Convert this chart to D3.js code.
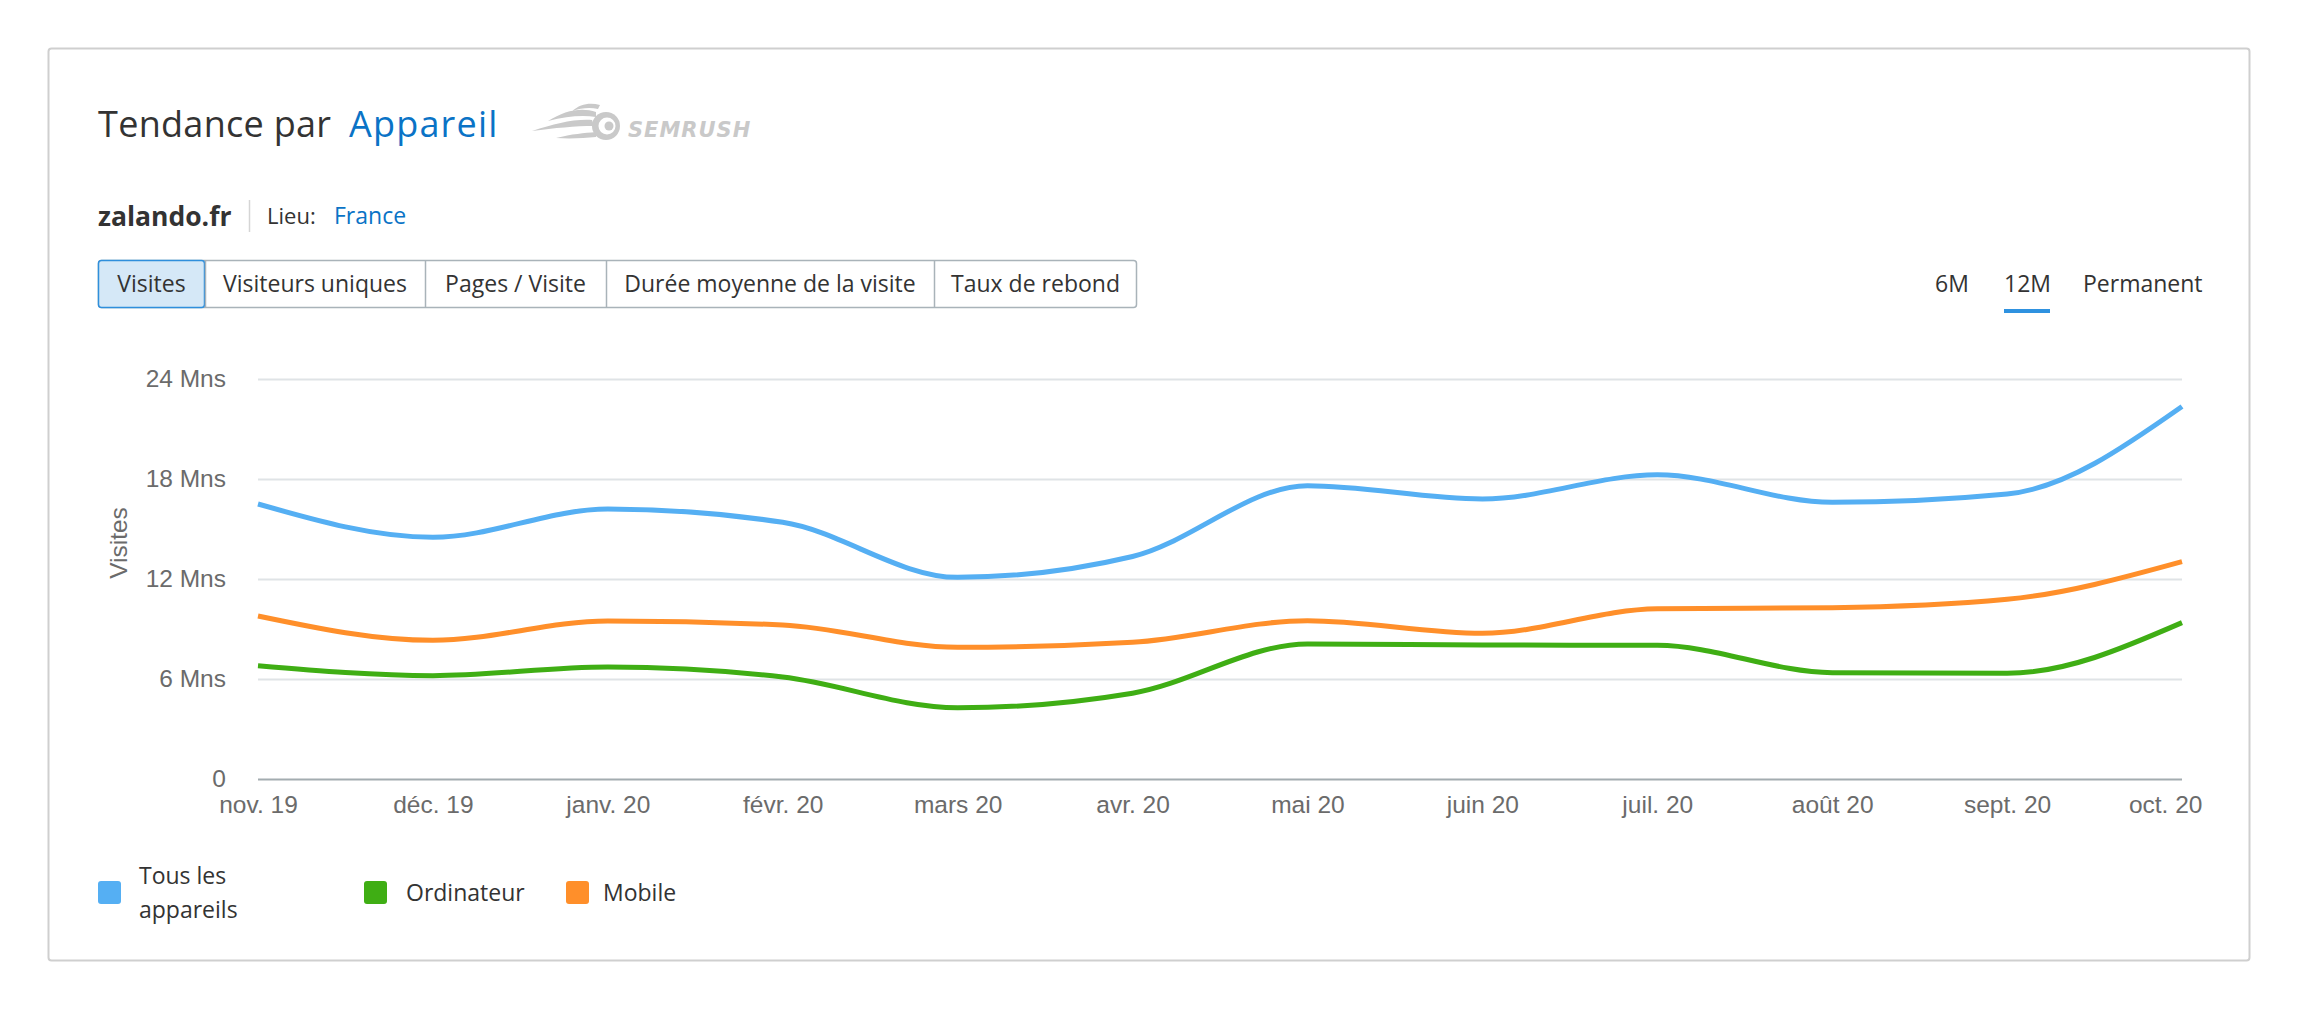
<!DOCTYPE html>
<html><head><meta charset="utf-8">
<script src="https://cdn.jsdelivr.net/npm/d3@7"></script>
<style>
html,body{margin:0;padding:0;background:#fff;}
svg{display:block;}
</style></head>
<body>
<svg id="chart" width="2300" height="1010"></svg>
<script>
const months = ["nov. 19","déc. 19","janv. 20","févr. 20","mars 20","avr. 20","mai 20","juin 20","juil. 20","août 20","sept. 20","oct. 20"];
const tousLesAppareils = [16.5,14.5,16.2,15.4,12.1,13.35,17.6,16.8,18.25,16.6,17.1,22.35];
const ordinateur = [6.8,6.2,6.72,6.12,4.27,5.15,8.1,8.04,8.02,6.38,6.34,9.38];
const mobile = [9.78,8.32,9.48,9.24,7.9,8.2,9.5,8.74,10.22,10.28,10.78,13.04];
const yTicks = [0,6,12,18,24];
const seriesNames = ["Tous les appareils","Ordinateur","Mobile"];
const seriesColors = ["#55aff3","#3fae14","#ff8f2a"];
const tabs = ["Visites","Visiteurs uniques","Pages / Visite","Durée moyenne de la visite","Taux de rebond"];
const periods = ["6M","12M","Permanent"];

const svg = d3.select("#chart");
const UI = "'Open Sans', 'Noto Sans', sans-serif";
const AX = "'Liberation Sans', Arial, sans-serif";

// card
svg.append("rect").attr("x",48.5).attr("y",48.5).attr("width",2201).attr("height",912)
  .attr("rx",3).attr("fill","#fff").attr("stroke","#cfcfcf").attr("stroke-width",2);

// title
const title = svg.append("text").attr("x",98).attr("y",137).attr("font-family",UI).attr("font-size",36).attr("fill","#333");
title.append("tspan").attr("letter-spacing",0.3).text("Tendance par");
title.append("tspan").attr("x",349).attr("fill","#0a73c6").attr("letter-spacing",1.2).text("Appareil");

// semrush logo
const logo = svg.append("g").attr("fill","#c9c9c9").attr("stroke","none");
logo.append("path").attr("d","M532,131 C555,124 572,119 592,120 L594,126 C575,126 555,128 532,131 Z");
logo.append("path").attr("d","M548,121 C565,110 582,107 596,112 L596,117 C583,115 567,116 548,121 Z");
logo.append("path").attr("d","M556,138 C572,134 584,133 596,132 L596,137 C584,138 572,139 556,138 Z");
logo.append("path").attr("d","M572,111 C580,104 590,102 600,105 L598,109 C590,107 581,108 572,111 Z");
logo.append("circle").attr("cx",606).attr("cy",126).attr("r",14);
logo.append("circle").attr("cx",607).attr("cy",126).attr("r",8.5).attr("fill","#fff");
logo.append("circle").attr("cx",609).attr("cy",126).attr("r",4.5);
logo.append("text").attr("x",628).attr("y",137).attr("font-family","'DejaVu Sans', sans-serif").attr("font-weight","bold")
  .attr("font-style","italic").attr("font-size",21).attr("letter-spacing",1).text("SEMRUSH");

// domain line
svg.append("text").attr("x",98).attr("y",226).attr("font-family",UI).attr("font-weight","bold").attr("font-size",26.5).attr("fill","#333").text("zalando.fr");
svg.append("line").attr("x1",249.5).attr("x2",249.5).attr("y1",200).attr("y2",232).attr("stroke","#d5d5d5").attr("stroke-width",1.5);
svg.append("text").attr("x",267).attr("y",224).attr("font-family",UI).attr("font-size",22).attr("fill","#333").text("Lieu:");
svg.append("text").attr("x",334).attr("y",224).attr("font-family",UI).attr("font-size",23).attr("fill","#0a73c6").text("France");

// tabs
const tabEdges = [98,205,425,606,934,1137];
const tg = svg.append("g");
tg.append("rect").attr("x",98.5).attr("y",260.5).attr("width",1038).attr("height",47).attr("rx",3).attr("fill","#fff").attr("stroke","#a9b3b9").attr("stroke-width",1.5);
tabs.forEach((t,i)=>{
  const x0 = tabEdges[i], x1 = tabEdges[i+1];
  if(i>0) tg.append("line").attr("x1",x0+0.5).attr("x2",x0+0.5).attr("y1",261).attr("y2",307).attr("stroke","#a9b3b9").attr("stroke-width",1.5);
  tg.append("text").attr("x",(x0+x1)/2).attr("y",292).attr("text-anchor","middle").attr("font-family",UI).attr("font-size",23).attr("fill","#333").text(t);
});
tg.insert("rect","text").attr("x",98.5).attr("y",260.5).attr("width",106).attr("height",47).attr("rx",3).attr("fill","#d5e8f7").attr("stroke","#2f8fdc").attr("stroke-width",1.5);

// periods
const periodX = [1935,2004,2083];
periods.forEach((p,i)=>{
  svg.append("text").attr("x",periodX[i]).attr("y",292).attr("font-family",UI).attr("font-size",23).attr("fill","#333").text(p);
});
svg.append("rect").attr("x",2004).attr("y",309).attr("width",46).attr("height",4).attr("fill","#2f92e0");

// chart
const x = d3.scalePoint().domain(months).range([258,2182]);
const y = d3.scaleLinear().domain([0,24]).range([779,379]);

const grid = svg.append("g");
yTicks.forEach(t=>{
  grid.append("line").attr("x1",258).attr("x2",2182).attr("y1",y(t)+0.5).attr("y2",y(t)+0.5)
    .attr("stroke", t===0 ? "#a3acb0" : "#dfe3e6").attr("stroke-width", t===0 ? 2 : 1.8);
});

const yAxis = d3.axisLeft(y).tickValues(yTicks).tickSize(0).tickPadding(0)
  .tickFormat(d => d===0 ? "0" : d + " Mns");
const yg = svg.append("g").attr("transform","translate(226,0)").call(yAxis);
yg.select(".domain").remove();
yg.selectAll("text").attr("font-family",AX).attr("font-size",24.5).attr("fill","#6b6b6b");

const xAxis = d3.axisBottom(x).tickSize(0).tickPadding(0);
const xg = svg.append("g").attr("transform","translate(0,796)").call(xAxis);
xg.select(".domain").remove();
xg.selectAll("text").attr("font-family",AX).attr("font-size",24.5).attr("fill","#6b6b6b").attr("dy","0.71em");
// last label kept inside the chart area (right-aligned to the card content edge)
xg.selectAll(".tick").filter(d => d === months[months.length-1]).select("text")
  .attr("text-anchor","end").attr("x", 2202 - x(months[months.length-1]));

svg.append("text").attr("transform","translate(127,543) rotate(-90)").attr("text-anchor","middle")
  .attr("font-family",AX).attr("font-size",24.5).attr("fill","#6b6b6b").text("Visites");

const line = d3.line().x((d,i)=>x(months[i])).y(d=>y(d)).curve(d3.curveMonotoneX);
const allSeries = [tousLesAppareils, ordinateur, mobile];
[2,1,0].forEach(i=>{
  svg.append("path").attr("d",line(allSeries[i])).attr("fill","none").attr("stroke",seriesColors[i])
    .attr("stroke-width",5).attr("stroke-linejoin","round").attr("stroke-linecap","butt");
});

// legend
const legX = [98,364,566];
const legTextX = [139,406,603];
seriesNames.forEach((n,i)=>{
  svg.append("rect").attr("x",legX[i]).attr("y",881).attr("width",23).attr("height",23).attr("rx",3).attr("fill",seriesColors[i]);
  const t = svg.append("text").attr("font-family",UI).attr("font-size",23).attr("fill","#333");
  if(i===0){
    t.append("tspan").attr("x",legTextX[i]).attr("y",884).text("Tous les");
    t.append("tspan").attr("x",legTextX[i]).attr("y",918).text("appareils");
  } else {
    t.attr("x",legTextX[i]).attr("y",901).text(n);
  }
});
</script>
</body></html>
